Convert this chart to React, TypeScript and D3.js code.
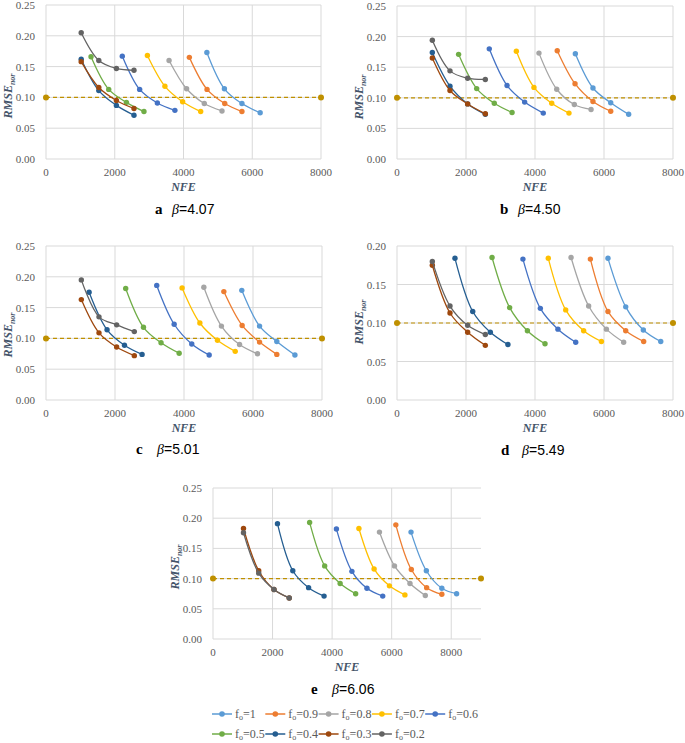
import React from "react";
import * as d3 from "d3";

// ---------- data ----------
const seriesLabels = ["1", "0.9", "0.8", "0.7", "0.6", "0.5", "0.4", "0.3", "0.2"];
const seriesColors = ["#5B9BD5", "#ED7D31", "#A5A5A5", "#FFC000", "#4472C4", "#70AD47", "#255E91", "#9E480E", "#636363"];

const nfeA = [
  [4680, 5190, 5700, 6230], [4170, 4685, 5200, 5700], [3580, 4090, 4605, 5120], [2950, 3460, 3975, 4500],
  [2220, 2725, 3240, 3750], [1310, 1825, 2340, 2850], [1024, 1536, 2048, 2560], [1024, 1536, 2048, 2560], [1024, 1536, 2048, 2560],
];
const rmseA = [
  [0.173, 0.114, 0.090, 0.075], [0.165, 0.113, 0.090, 0.077], [0.160, 0.114, 0.090, 0.078], [0.168, 0.118, 0.093, 0.077],
  [0.167, 0.113, 0.091, 0.079], [0.166, 0.113, 0.092, 0.077], [0.162, 0.111, 0.087, 0.071], [0.158, 0.116, 0.095, 0.082], [0.205, 0.160, 0.147, 0.144],
];
const nfeB = [
  [5170, 5680, 6195, 6715], [4645, 5160, 5680, 6195], [4115, 4630, 5140, 5625], [3460, 3970, 4485, 4985],
  [2675, 3190, 3700, 4240], [1785, 2310, 2820, 3335], [1024, 1536, 2048, 2560], [1024, 1536, 2048, 2560], [1024, 1536, 2048, 2560],
];
const rmseB = [
  [0.172, 0.116, 0.092, 0.073], [0.177, 0.123, 0.094, 0.078], [0.173, 0.114, 0.089, 0.081], [0.176, 0.117, 0.091, 0.075],
  [0.180, 0.120, 0.093, 0.075], [0.171, 0.115, 0.091, 0.076], [0.174, 0.119, 0.090, 0.073], [0.165, 0.112, 0.090, 0.074], [0.194, 0.144, 0.132, 0.130],
];
const nfeC = [
  [5675, 6190, 6690, 7215], [5155, 5685, 6190, 6690], [4575, 5085, 5610, 6130], [3945, 4460, 4970, 5485],
  [3210, 3715, 4225, 4730], [2310, 2825, 3335, 3860], [1250, 1770, 2275, 2785], [1024, 1536, 2048, 2560], [1024, 1536, 2048, 2560],
];
const rmseC = [
  [0.178, 0.120, 0.095, 0.073], [0.176, 0.121, 0.094, 0.074], [0.183, 0.120, 0.090, 0.075], [0.182, 0.125, 0.097, 0.079],
  [0.186, 0.123, 0.091, 0.073], [0.181, 0.118, 0.093, 0.076], [0.175, 0.114, 0.089, 0.074], [0.163, 0.109, 0.086, 0.072], [0.195, 0.135, 0.122, 0.111],
];
const nfeD = [
  [6115, 6630, 7140, 7645], [5605, 6115, 6630, 7150], [5045, 5555, 6070, 6570], [4385, 4890, 5410, 5925],
  [3650, 4155, 4665, 5180], [2755, 3265, 3780, 4290], [1680, 2195, 2705, 3215], [1024, 1536, 2048, 2560], [1024, 1536, 2048, 2560],
];
const rmseD = [
  [0.184, 0.121, 0.091, 0.076], [0.183, 0.115, 0.090, 0.076], [0.185, 0.122, 0.092, 0.075], [0.184, 0.117, 0.090, 0.076],
  [0.183, 0.119, 0.092, 0.075], [0.185, 0.120, 0.090, 0.073], [0.184, 0.115, 0.088, 0.072], [0.175, 0.113, 0.088, 0.071], [0.180, 0.122, 0.097, 0.085],
];
const nfeE = [
  [6650, 7165, 7685, 8180], [6140, 6660, 7175, 7685], [5590, 6095, 6615, 7130], [4900, 5410, 5925, 6445],
  [4145, 4665, 5170, 5700], [3245, 3750, 4270, 4790], [2165, 2680, 3210, 3730], [1024, 1536, 2048, 2560], [1024, 1536, 2048, 2560],
];
const rmseE = [
  [0.177, 0.113, 0.084, 0.075], [0.189, 0.115, 0.085, 0.074], [0.177, 0.121, 0.092, 0.072], [0.183, 0.116, 0.088, 0.073],
  [0.182, 0.112, 0.084, 0.071], [0.193, 0.121, 0.092, 0.075], [0.191, 0.113, 0.085, 0.071], [0.183, 0.113, 0.082, 0.068], [0.176, 0.109, 0.082, 0.068],
];

const panelLetters = ["a", "b", "c", "d", "e"];
const panelBetas = ["4.07", "4.50", "5.01", "5.49", "6.06"];
const panelXMax = [8000, 8000, 8000, 8000, 9000];
const panelYMax = [0.25, 0.25, 0.25, 0.2, 0.25];
const xTickValues = [0, 2000, 4000, 6000, 8000];
const yTickStep = 0.05;
const thresholdValue = 0.1;

// ---------- layout ----------
const layouts = [
  { left: 46, right: 321, top: 5, bottom: 159, titleY: 96, letterX: 155, betaX: 172, capY: 214 },
  { left: 397, right: 673, top: 6, bottom: 159, titleY: 97, letterX: 500, betaX: 518, capY: 214 },
  { left: 46, right: 322, top: 246, bottom: 400, titleY: 335, letterX: 136, betaX: 157, capY: 454 },
  { left: 397, right: 673, top: 246, bottom: 400, titleY: 322, letterX: 501, betaX: 522, capY: 455 },
  { left: 213, right: 481, top: 488, bottom: 639, titleY: 567, letterX: 311, betaX: 332, capY: 694 },
];

const panelNfe = [nfeA, nfeB, nfeC, nfeD, nfeE];
const panelRmse = [rmseA, rmseB, rmseC, rmseD, rmseE];

const SERIF = "'Liberation Serif', 'Times New Roman', serif";
const SANS = "'Liberation Sans', Arial, sans-serif";
const GRID = "#D9D9D9";
const TICK = "#595959";
const TITLE = "#44546A";
const THRESH = "#BF9000";

function Panel({ idx }: { idx: number }) {
  const L = layouts[idx];
  const xMax = panelXMax[idx];
  const yMax = panelYMax[idx];
  const x = d3.scaleLinear().domain([0, xMax]).range([L.left, L.right]);
  const y = d3.scaleLinear().domain([0, yMax]).range([L.bottom, L.top]);
  const yTicks = d3.range(0, yMax + 1e-9, yTickStep);
  const line = d3
    .line<[number, number]>()
    .x((d) => x(d[0]))
    .y((d) => y(d[1]))
    .curve(d3.curveCatmullRom.alpha(0.5));
  const xs = panelNfe[idx];
  const ys = panelRmse[idx];
  const cx = (L.left + L.right) / 2;
  return (
    <g>
      {yTicks.map((t, i) => (
        <g key={"y" + i}>
          <line x1={L.left} x2={L.right} y1={y(t)} y2={y(t)} stroke={GRID} strokeWidth={1} />
          <text x={L.left - 11} y={y(t) + 4} textAnchor="end" style={{ fontFamily: SERIF }} fontSize={11} fill={TICK}>
            {d3.format(".2f")(t)}
          </text>
        </g>
      ))}
      {xTickValues.map((t, i) => (
        <g key={"x" + i}>
          <line x1={x(t)} x2={x(t)} y1={L.top} y2={L.bottom} stroke={GRID} strokeWidth={1} />
          <text x={x(t)} y={L.bottom + 17} textAnchor="middle" style={{ fontFamily: SERIF }} fontSize={11} fill={TICK}>
            {t}
          </text>
        </g>
      ))}
      {/* threshold */}
      <line
        x1={x(0)}
        x2={x(xMax)}
        y1={y(thresholdValue)}
        y2={y(thresholdValue)}
        stroke={THRESH}
        strokeWidth={1.2}
        strokeDasharray="4,3"
      />
      <circle cx={x(0)} cy={y(thresholdValue)} r={3} fill={THRESH} />
      <circle cx={x(xMax)} cy={y(thresholdValue)} r={3} fill={THRESH} />
      {xs.map((sx, s) => {
        const pts: [number, number][] = sx.map((v, k) => [v, ys[s][k]]);
        return (
          <g key={"s" + s}>
            <path d={line(pts) || ""} fill="none" stroke={seriesColors[s]} strokeWidth={1.3} />
            {pts.map((p, k) => (
              <circle key={k} cx={x(p[0])} cy={y(p[1])} r={2.7} fill={seriesColors[s]} />
            ))}
          </g>
        );
      })}
      {/* axis titles */}
      <text
        transform={`translate(${L.left - 34},${L.titleY}) rotate(-90)`}
        textAnchor="middle"
        style={{ fontFamily: SERIF }}
        fontSize={12}
        fontStyle="italic"
        fontWeight="bold"
        fill={TITLE}
      >
        RMSE
        <tspan fontSize={8} dy={3}>nor</tspan>
      </text>
      <text
        x={cx}
        y={L.bottom + 32}
        textAnchor="middle"
        style={{ fontFamily: SERIF }}
        fontSize={12}
        fontStyle="italic"
        fontWeight="bold"
        fill={TITLE}
      >
        NFE
      </text>
      {/* caption */}
      <text x={L.letterX} y={L.capY} style={{ fontFamily: SERIF }} fontSize={15} fontWeight="bold" fill="#000">
        {panelLetters[idx]}
      </text>
      <text x={L.betaX} y={L.capY} fontSize={14} fill="#000">
        <tspan style={{ fontFamily: SERIF }} fontStyle="italic">β</tspan>
        <tspan style={{ fontFamily: SANS }}>={panelBetas[idx]}</tspan>
      </text>
    </g>
  );
}

function Legend() {
  const x0 = 212;
  const step = 53.3;
  return (
    <g>
      {seriesLabels.map((lab, i) => {
        const row = i < 5 ? 0 : 1;
        const col = i < 5 ? i : i - 5;
        const lx = x0 + col * step;
        const ly = row === 0 ? 714 : 734;
        return (
          <g key={i}>
            <line x1={lx} x2={lx + 20} y1={ly} y2={ly} stroke={seriesColors[i]} strokeWidth={1.5} />
            <circle cx={lx + 10} cy={ly} r={2.8} fill={seriesColors[i]} />
            <text x={lx + 23} y={ly + 4} style={{ fontFamily: SERIF }} fontSize={12} fill={TICK}>
              f<tspan fontSize={8} dy={1.5}>o</tspan>
              <tspan dy={-1.5}>={lab}</tspan>
            </text>
          </g>
        );
      })}
    </g>
  );
}

export default function App() {
  return (
    <svg
      width={685}
      height={743}
      style={{ position: "absolute", left: 0, top: 0, background: "#fff" }}
    >
      <rect width={685} height={743} fill="#fff" />
      {layouts.map((_, i) => (
        <Panel key={i} idx={i} />
      ))}
      <Legend />
    </svg>
  );
}
